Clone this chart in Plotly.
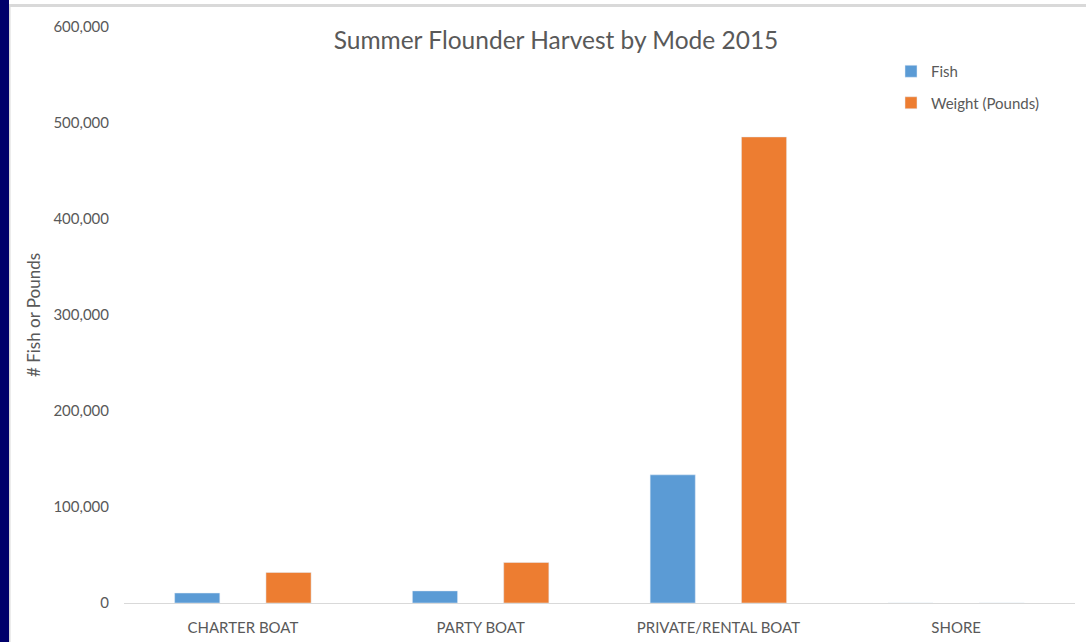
import plotly.graph_objects as go

categories = ["CHARTER BOAT", "PARTY BOAT", "PRIVATE/RENTAL BOAT", "SHORE"]
fish = [10400, 12600, 133500, 0]
weight = [31800, 42200, 485500, 0]
y_ticks = [0, 100000, 200000, 300000, 400000, 500000, 600000]
y_tick_labels = ["0", "100,000", "200,000", "300,000", "400,000", "500,000", "600,000"]

W, H = 1086, 642
L, R, T, B = 124, 11, 27, 39
pw, ph = W - L - R, H - T - B

def px_x(px):
    return (px - L) / pw

def px_y(py):
    return 1 - (py - T) / ph

txt = "#595959"
font_family = "Lato, Calibri, sans-serif"

fig = go.Figure()
fig.add_trace(go.Bar(x=categories, y=fish, name="Fish", marker_color="#5b9bd5",
                     width=0.19, offset=-0.287, legendgroup="a"))
fig.add_trace(go.Bar(x=categories, y=weight, name="Weight (Pounds)", marker_color="#ed7d31",
                     width=0.19, offset=0.097, legendgroup="b"))

fig.update_layout(
    width=W, height=H,
    autosize=False,
    margin=dict(l=L, r=R, t=T, b=B, autoexpand=False),
    barmode="overlay",
    paper_bgcolor="white", plot_bgcolor="white",
    font=dict(family=font_family, color=txt, size=15),
    title=dict(text="Summer Flounder Harvest by Mode 2015", x=px_x(556), xref="paper",
               xanchor="center", y=1 - 40 / H, yanchor="middle",
               font=dict(size=24.5, color=txt, family=font_family)),
    legend=dict(x=px_x(891), y=px_y(55), xanchor="left", yanchor="top",
                font=dict(size=15, color=txt), bgcolor="rgba(0,0,0,0)",
                tracegroupgap=9, itemwidth=30),
    showlegend=True,
)
fig.update_xaxes(showgrid=False, showline=True, linecolor="#d9d9d9", linewidth=1,
                 ticks="", tickfont=dict(size=15, color=txt), zeroline=False,
                 ticklabelstandoff=11, automargin=False)
fig.update_yaxes(range=[0, 600000], tickvals=y_ticks, ticktext=y_tick_labels,
                 showgrid=False, zeroline=False, showline=False, ticks="",
                 tickfont=dict(size=15, color=txt), ticklabelstandoff=14, automargin=False,
                 title=dict(text="# Fish or Pounds", font=dict(size=17, color=txt), standoff=8))

shapes = [
    dict(type="rect", xref="paper", yref="paper", x0=px_x(0), x1=px_x(9),
         y0=px_y(H), y1=px_y(0), fillcolor="#00006b", line_width=0, layer="above"),
    dict(type="rect", xref="paper", yref="paper", x0=px_x(9), x1=px_x(10.5),
         y0=px_y(H), y1=px_y(4), fillcolor="#d9d9d9", line_width=0, layer="above"),
    dict(type="rect", xref="paper", yref="paper", x0=px_x(9), x1=px_x(W),
         y0=px_y(7), y1=px_y(4), fillcolor="#d9d9d9", line_width=0, layer="above"),
]
fig.update_layout(shapes=shapes)

fig.write_html("out.html", config={"displayModeBar": False},
               post_script="document.body.style.margin='0';document.body.style.overflow='hidden';")
